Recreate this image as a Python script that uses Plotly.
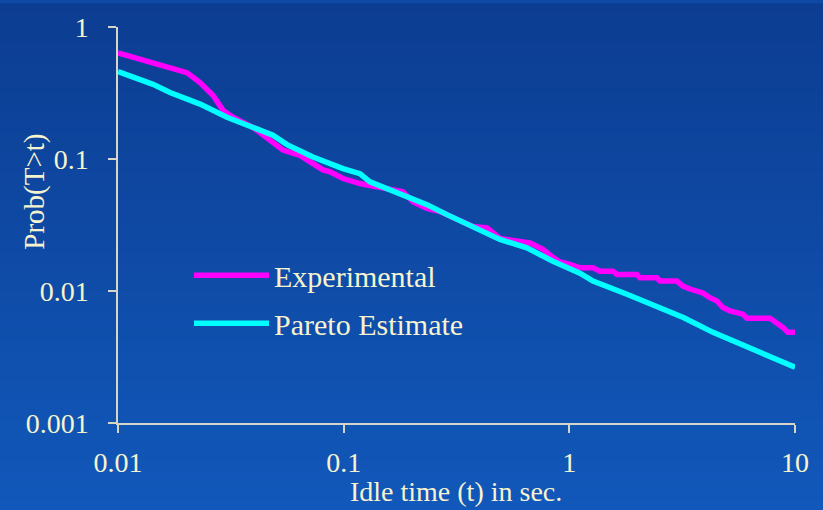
import plotly.graph_objects as go

# Experimental survival function
exp_t = [0.01, 0.0202, 0.0231, 0.0264, 0.0292, 0.0323, 0.0396, 0.0538, 0.0640, 0.0731,
         0.0810, 0.0870, 0.0993, 0.118, 0.1405, 0.1603, 0.1829, 0.2028, 0.2339, 0.2671,
         0.2870, 0.3741, 0.4314, 0.4926, 0.669, 0.7638, 0.846, 0.9087, 1.0063, 1.114,
         1.273, 1.367, 1.561, 1.625, 1.993, 2.055, 2.444, 2.52, 2.997, 3.186,
         3.422, 3.908, 4.197, 4.508, 4.792, 5.147, 5.878, 6.122, 7.742, 8.314,
         8.839, 9.3, 10.0]
exp_p = [0.637, 0.451, 0.379, 0.303, 0.2335, 0.207, 0.174, 0.1169, 0.1066, 0.0922,
         0.0827, 0.0799, 0.0711, 0.0652, 0.0616, 0.0598, 0.0565, 0.0475, 0.0423, 0.0400,
         0.0379, 0.0308, 0.0300, 0.0250, 0.0231, 0.0207, 0.0180, 0.0166, 0.01588, 0.01497,
         0.01497, 0.01414, 0.01414, 0.01335, 0.01335, 0.01259, 0.0126, 0.01189, 0.01189, 0.0109,
         0.01035, 0.00966, 0.0089, 0.0084, 0.00749, 0.00707, 0.00668, 0.00623, 0.00623, 0.00578,
         0.0053, 0.00486, 0.00486]

# Pareto estimate
par_t = [0.01, 0.0143, 0.0170, 0.0202, 0.0231, 0.0304, 0.0413, 0.0486, 0.0561, 0.0731,
         0.0993, 0.118, 0.1308, 0.1493, 0.1908, 0.2339, 0.287, 0.3741, 0.4926, 0.6488,
         0.846, 1.114, 1.273, 1.8, 2.52, 3.2, 4.33, 6.122, 8.572, 10.0]
par_p = [0.459, 0.368, 0.319, 0.2875, 0.2604, 0.207, 0.169, 0.1515, 0.1285, 0.1035,
         0.0845, 0.0775, 0.0672, 0.0616, 0.0518, 0.0451, 0.0379, 0.0303, 0.0246, 0.0212,
         0.0168, 0.01366, 0.01189, 0.00944, 0.00749, 0.0063, 0.00486, 0.00375, 0.002976, 0.00265]

x_ticks = [0.01, 0.1, 1, 10]
x_labels = ["0.01", "0.1", "1", "10"]
y_ticks = [0.001, 0.01, 0.1, 1]
y_labels = ["0.001", "0.01", "0.1", "1"]

W, H = 823, 510
ML, MR, MT, MB = 118, 28, 24, 87
PW, PH = W - ML - MR, H - MT - MB

FONT = "Liberation Serif, Times New Roman, serif"
TXT = "#f6f3cf"
AX = "#d6d6c6"

fig = go.Figure()
fig.add_trace(go.Scatter(x=exp_t, y=exp_p, mode="lines", name="Experimental",
                         legendgroup="a", line=dict(color="#ff00ff", width=5.5)))
fig.add_trace(go.Scatter(x=par_t, y=par_p, mode="lines", name="Pareto Estimate",
                         legendgroup="b", line=dict(color="#00ffff", width=5.5)))

# vertical gradient background
shapes = []
n = 51
top = (12, 61, 146)
bot = (17, 88, 186)
for i in range(n):
    f = i / (n - 1)
    c = tuple(round(top[k] + (bot[k] - top[k]) * f) for k in range(3))
    y0px = i * H / n
    y1px = (i + 1) * H / n + 1
    shapes.append(dict(type="rect", xref="paper", yref="paper", layer="below",
                       x0=-ML / PW, x1=(W - ML) / PW,
                       y0=(H - MB - y1px) / PH, y1=(H - MB - y0px) / PH,
                       fillcolor="rgb(%d,%d,%d)" % c, line=dict(width=0)))

fig.update_layout(
    width=W, height=H,
    margin=dict(l=ML, r=MR, t=MT, b=MB),
    paper_bgcolor="rgb(14,74,166)",
    plot_bgcolor="rgba(0,0,0,0)",
    shapes=shapes,
    font=dict(family=FONT, color=TXT, size=28),
    showlegend=True,
    legend=dict(x=(189 - ML) / PW, y=(H - MB - 248) / PH, xanchor="left", yanchor="top",
                bgcolor="rgba(0,0,0,0)", borderwidth=0, itemwidth=75,
                traceorder="grouped", tracegroupgap=6,
                font=dict(family=FONT, color=TXT, size=30)),
    xaxis=dict(type="log", range=[-2, 1], tickvals=x_ticks, ticktext=x_labels,
               showgrid=False, zeroline=False, showline=True, linecolor=AX, linewidth=1.5,
               ticks="outside", ticklen=8, tickwidth=1.5, tickcolor=AX,
               tickfont=dict(family=FONT, color=TXT, size=28), ticklabelstandoff=6),
    yaxis=dict(type="log", range=[-3, 0], tickvals=y_ticks, ticktext=y_labels,
               showgrid=False, zeroline=False, showline=True, linecolor=AX, linewidth=1.5,
               ticks="outside", ticklen=8, tickwidth=1.5, tickcolor=AX,
               tickfont=dict(family=FONT, color=TXT, size=28), ticklabelstandoff=14),
    annotations=[
        dict(text="Idle time (t) in sec.", xref="paper", yref="paper",
             x=(456 - ML) / PW, y=(H - MB - 510) / PH, xanchor="center", yanchor="bottom",
             showarrow=False, font=dict(family=FONT, color=TXT, size=28)),
        dict(text="Prob(T>t)", xref="paper", yref="paper", textangle=-90,
             x=(35 - ML) / PW, y=(H - MB - 190) / PH, xanchor="center", yanchor="middle",
             showarrow=False, font=dict(family=FONT, color=TXT, size=29)),
    ],
)

fig.write_html("out.html")
